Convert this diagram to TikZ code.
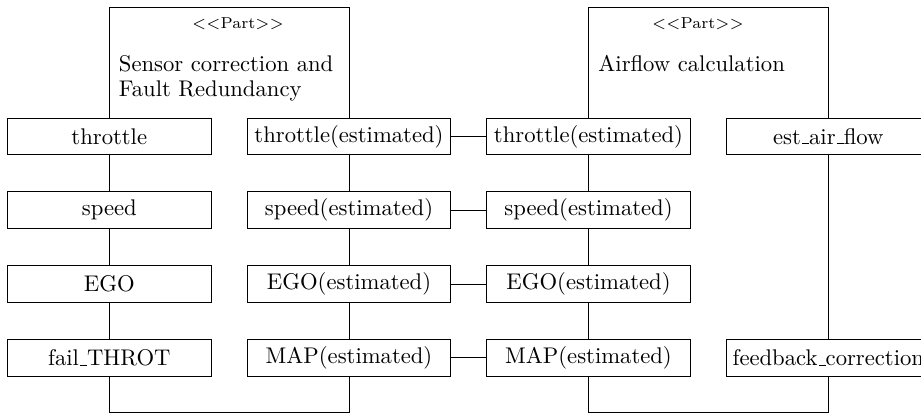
\documentclass[tikz,border=0pt]{standalone}
\newcommand\us{\leavevmode\kern.06em\vbox{\hrule width.3em}}
\begin{document}
\begin{tikzpicture}[x=0.4413pt,y=-0.4413pt,
  port/.style={draw, fill=white, minimum width=89.8pt, minimum height=16.2pt, inner sep=0pt},
  partedge/.style={draw},
  conn/.style={draw},
  stereo/.style={font=\scriptsize, inner sep=0pt, anchor=base},
  titletext/.style={inner sep=0pt, anchor=base west}]
\useasboundingbox (0,0) rectangle (921,415);
% part frames
\coordinate (p1nw) at (109.5,7.3);
\coordinate (p1se) at (349,412);
\coordinate (p2nw) at (588.5,7.3);
\coordinate (p2se) at (828.3,412);
\draw[partedge] (p1nw) rectangle (p1se);
\draw[partedge] (p2nw) rectangle (p2se);
% stereotypes and titles
\node[stereo] (s1) at (238,28.3) {$<<$Part$>>$};
\node[stereo] (s2) at (698,28.3) {$<<$Part$>>$};
\node[titletext] (t1a) at (118.5,71.7) {Sensor correction and};
\node[titletext] (t1b) at (118.5,96.5) {Fault Redundancy};
\node[titletext] (t2) at (598,71.3) {Airflow calculation};
% ports of part 1
\node[port] (thr) at (109.3,136.4) {throttle};
\node[port] (spd) at (109.3,210.1) {speed};
\node[port] (ego) at (109.3,284.1) {EGO};
\node[port] (fail) at (109.3,357.7) {fail\us THROT};
\node[port] (thrA) at (349,136.4) {throttle(estimated)};
\node[port] (spdA) at (349,210.1) {speed(estimated)};
\node[port] (egoA) at (349,284.1) {EGO(estimated)};
\node[port] (mapA) at (349,357.7) {MAP(estimated)};
% ports of part 2
\node[port] (thrB) at (588.5,136.4) {throttle(estimated)};
\node[port] (spdB) at (588.5,210.1) {speed(estimated)};
\node[port] (egoB) at (588.5,284.1) {EGO(estimated)};
\node[port] (mapB) at (588.5,357.7) {MAP(estimated)};
\node[port] (eaf) at (828.3,136.4) {est\us air\us flow};
\node[port] (fbc) at (828.3,357.7) {feedback\us correction};
% connectors
\draw[conn] (thrA.east) -- (thrB.west);
\draw[conn] (spdA.east) -- (spdB.west);
\draw[conn] (egoA.east) -- (egoB.west);
\draw[conn] (mapA.east) -- (mapB.west);
\end{tikzpicture}
\end{document}
